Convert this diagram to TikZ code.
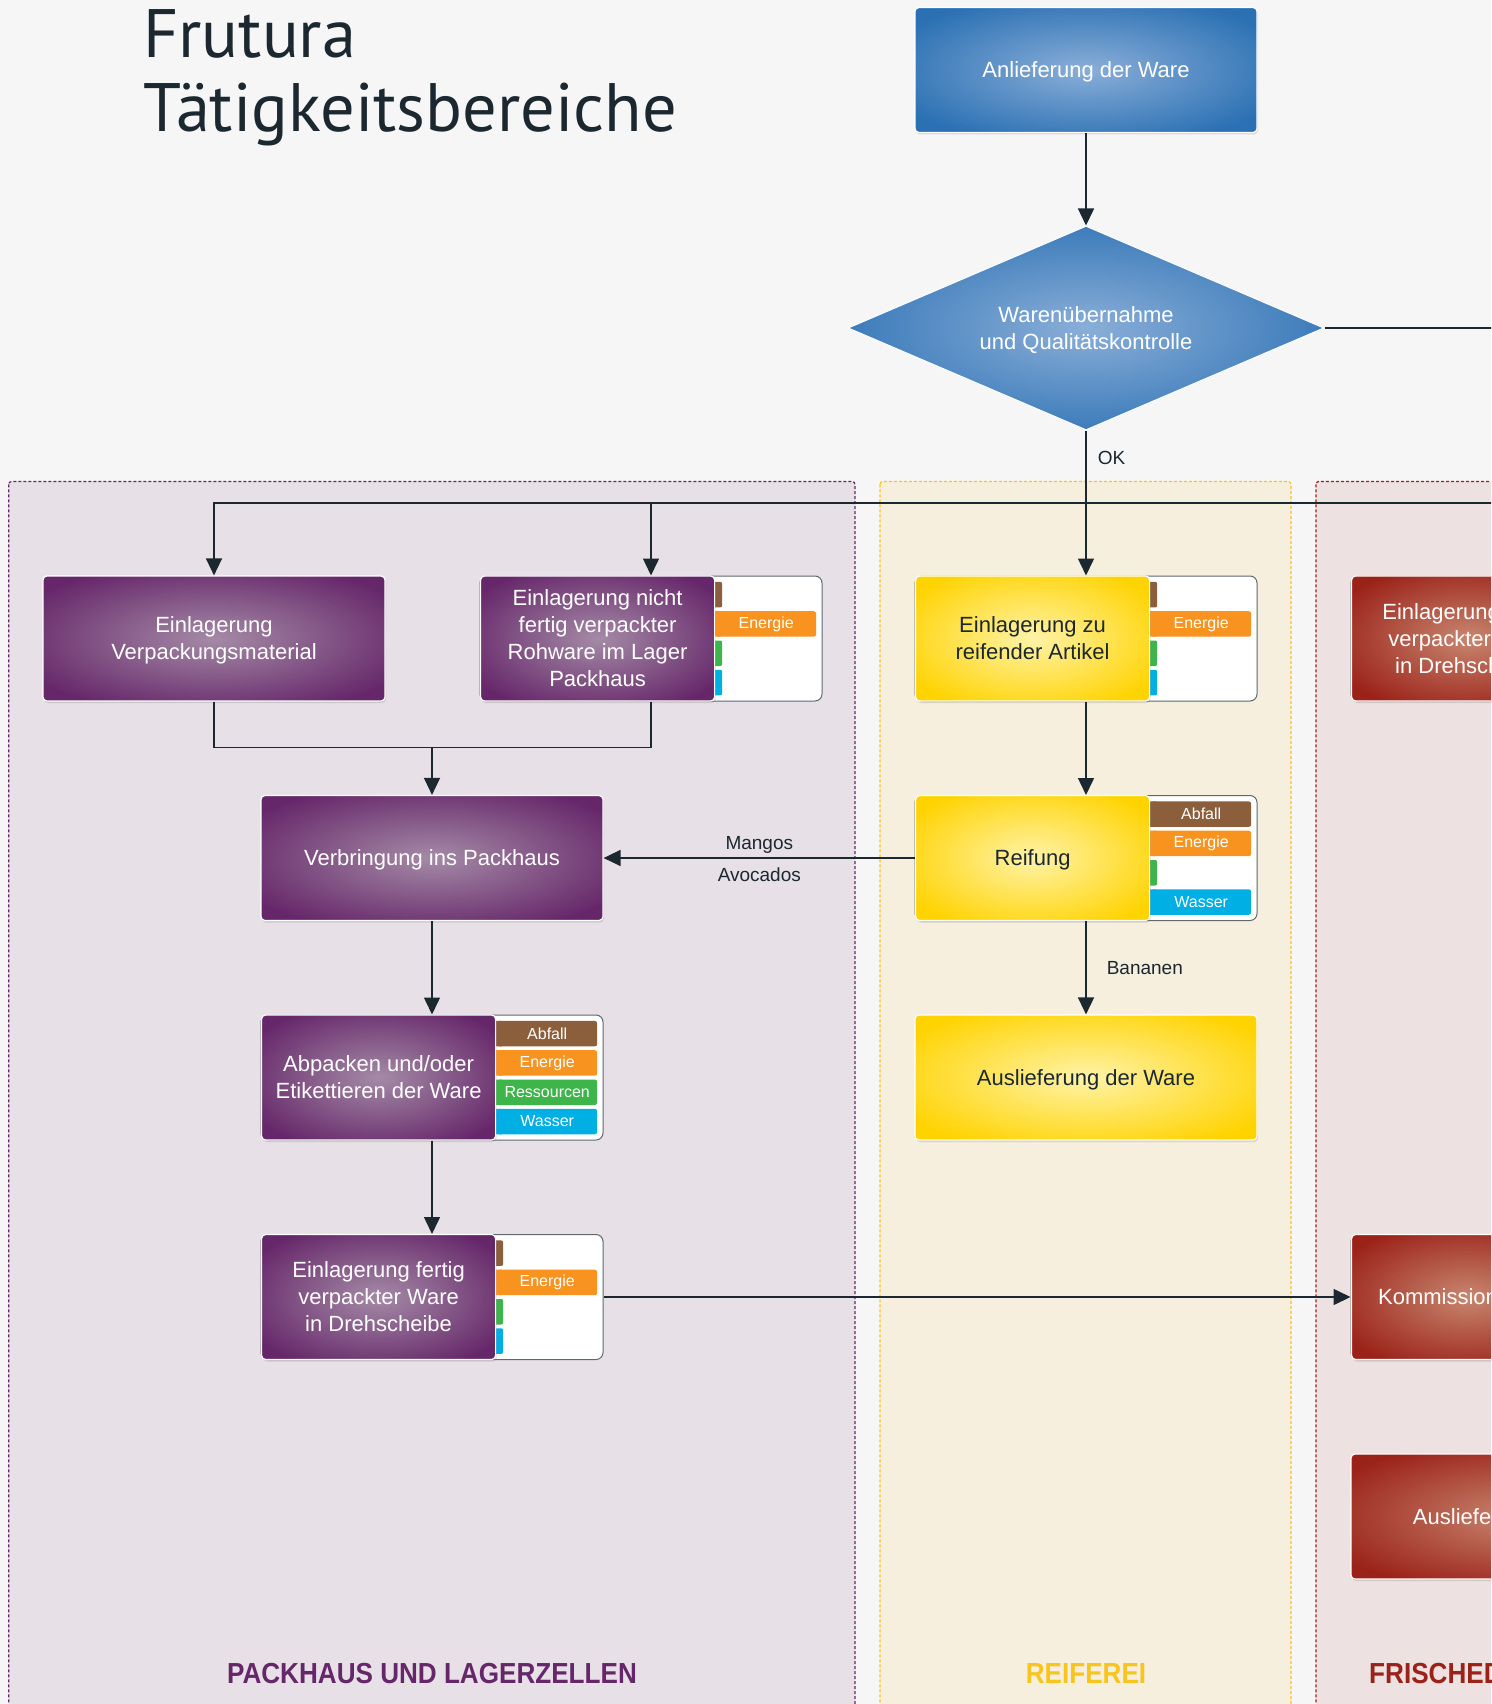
\documentclass[tikz,border=0pt]{standalone}
\usepackage{fontspec}
\setmainfont{Liberation Sans}
\newfontfamily\titelschrift{PT Sans}
\usepackage{graphicx}
\usetikzlibrary{shapes.geometric,arrows.meta,positioning,shadows}

\definecolor{hintergrund}{HTML}{F6F6F6}
\definecolor{linie}{HTML}{1C2830}
\definecolor{lila}{HTML}{66276A}
\definecolor{lilahell}{HTML}{A48AA6}
\definecolor{lilabahn}{HTML}{E8E0E7}
\definecolor{gelb}{HTML}{FFD300}
\definecolor{gelbhell}{HTML}{FFF3A8}
\definecolor{gelbbahn}{HTML}{F6EFDD}
\definecolor{gelbrand}{HTML}{F7C51E}
\definecolor{rot}{HTML}{9B2219}
\definecolor{rothell}{HTML}{C8866F}
\definecolor{rotbahn}{HTML}{EDE1E1}
\definecolor{blau}{HTML}{2A70B3}
\definecolor{blauhell}{HTML}{8AAED8}
\definecolor{abfall}{HTML}{8B5E3C}
\definecolor{energie}{HTML}{F7931E}
\definecolor{ressourcen}{HTML}{3DB54A}
\definecolor{wasser}{HTML}{00B0E5}

% weiche Verlaeufe von der Mitte zum Rand
\pgfdeclareradialshading{lilaverlauf}{\pgfpointorigin}{color(0bp)=(lilahell); color(31bp)=(lila); color(100bp)=(lila)}
\pgfdeclareradialshading{gelbverlauf}{\pgfpointorigin}{color(0bp)=(gelbhell); color(31bp)=(gelb); color(100bp)=(gelb)}
\pgfdeclareradialshading{rotverlauf}{\pgfpointorigin}{color(0bp)=(rothell); color(31bp)=(rot); color(100bp)=(rot)}
\pgfdeclareradialshading{blauverlauf}{\pgfpointorigin}{color(0bp)=(blauhell); color(31bp)=(blau); color(100bp)=(blau)}

\tikzset{
  kasten/.style={rectangle, rounded corners=4pt, draw=white, line width=1.2pt,
    minimum width=342pt, minimum height=125pt, inner sep=0pt, align=center,
    text depth=0pt, font=\fontsize{22}{27}\selectfont, text=white,
    drop shadow={opacity=0.25, shadow xshift=1pt, shadow yshift=-2pt}},
  lilakasten/.style={kasten, shading=lilaverlauf},
  gelbkasten/.style={kasten, shading=gelbverlauf, text=linie},
  rotkasten/.style={kasten, shading=rotverlauf},
  blaukasten/.style={kasten, shading=blauverlauf},
  raute/.style={diamond, aspect=2.33, minimum width=476pt, minimum height=204pt,
    inner sep=0pt, draw=white, line width=1pt, align=center, text=white,
    text depth=0pt, font=\fontsize{22}{27}\selectfont, shading=blauverlauf},
  rahmen/.style={rectangle, rounded corners=7pt, draw=linie!70, fill=white,
    line width=1pt, minimum width=342pt, minimum height=125pt, inner sep=0pt},
  stummel/.style={rectangle, rounded corners=2pt, minimum width=14pt,
    minimum height=25.5pt, inner sep=0pt},
  feld/.style={rectangle, rounded corners=2.5pt, minimum width=100pt,
    minimum height=25.5pt, inner sep=0pt, text=white,
    font=\fontsize{16}{18}\selectfont},
  bahn/.style={dashed, dash pattern=on 3pt off 2pt, line width=1.2pt, rounded corners=3pt},
  bahntitel/.style={inner sep=0pt, font=\bfseries\fontsize{29}{34}\selectfont},
  titel/.style={inner sep=0pt, text=linie, font=\titelschrift\fontsize{68.5}{77}\selectfont},
  linie/.style={draw=linie, line width=1.5pt},
  pfeil/.style={linie, -{Triangle[length=17pt, width=16pt]}},
  beschriftung/.style={inner sep=2pt, text=linie, font=\fontsize{19}{22}\selectfont}
}

% Taetigkeit mit Kennzeichnungsfeld: Name, x, y (Mitte), Stil, Text, aktive Felder
\newcommand{\taetigkeit}[6]{
  \node[rahmen] (#1) at (#2,#3) {};
  \foreach \i/\fb in {0/abfall,1/energie,2/ressourcen,3/wasser}
    \node[stummel, fill=\fb, anchor=north west] (#1-s\i) at ({#2+57},{#3-56.8+\i*29.3}) {};
  \node[#4, anchor=west, minimum width=234pt] (#1-f) at ({#2-171},#3) {#5};
  \foreach \i/\txt/\fb in {#6}
    \node[feld, fill=\fb, anchor=north west] (#1-t\i) at ({#2+65},{#3-56.8+\i*29.3}) {\txt};
}

\begin{document}
\begin{tikzpicture}[x=1pt, y=-1pt]
\useasboundingbox (0,0) rectangle (1491,1704);
\clip (0,0) rectangle (1491,1704);
\fill[hintergrund] (0,0) rectangle (1491,1704);

% Bahnen
\draw[bahn, fill=lilabahn, draw=lila] (8.7,481.4) rectangle (855,1740);
\draw[bahn, fill=gelbbahn, draw=gelbrand] (880,481.4) rectangle (1291,1740);
\draw[bahn, fill=rotbahn, draw=rot] (1316,481.4) rectangle (1800,1740);
\node[bahntitel, text=lila] (b-pack) at (432,1673.8) {\scalebox{0.9}[1]{PACKHAUS UND LAGERZELLEN}};
\node[bahntitel, text=gelbrand] (b-reif) at (1086,1673.8) {\scalebox{0.9}[1]{REIFEREI}};
\node[bahntitel, text=rot, anchor=west] (b-frisch) at (1369,1673.8) {\scalebox{0.9}[1]{FRISCHEDIENST}};

% Titel
\node[titel, anchor=base west] (titel1) at (143,58) {Frutura};
\node[titel, anchor=base west] (titel2) at (143,132) {Tätigkeitsbereiche};

% Wareneingang
\node[blaukasten] (anl) at (1086,70) {Anlieferung der Ware};
\node[raute] (dia) at (1086,328) {Warenübernahme\\und Qualitätskontrolle};

% Packhaus und Lagerzellen
\node[lilakasten] (ev) at (214,638.5) {Einlagerung\\Verpackungsmaterial};
\taetigkeit{en}{651}{638.5}{lilakasten}{Einlagerung nicht\\fertig verpackter\\Rohware im Lager\\Packhaus}{1/Energie/energie}
\node[lilakasten] (verb) at (432,858) {Verbringung ins Packhaus};
\taetigkeit{abp}{432}{1077.5}{lilakasten}{Abpacken und/oder\\Etikettieren der Ware}{0/Abfall/abfall,1/Energie/energie,2/Ressourcen/ressourcen,3/Wasser/wasser}
\taetigkeit{ef}{432}{1297}{lilakasten}{Einlagerung fertig\\verpackter Ware\\in Drehscheibe}{1/Energie/energie}

% Reiferei
\taetigkeit{ez}{1086}{638.5}{gelbkasten}{Einlagerung zu\\reifender Artikel}{1/Energie/energie}
\taetigkeit{reif}{1086}{858}{gelbkasten}{Reifung}{0/Abfall/abfall,1/Energie/energie,3/Wasser/wasser}
\node[gelbkasten] (ausl) at (1086,1077.5) {Auslieferung der Ware};

% Frischedienst
\taetigkeit{er}{1522}{638.5}{rotkasten}{Einlagerung fertig\\verpackter Ware\\in Drehscheibe}{1/Energie/energie}
\taetigkeit{komm}{1522}{1297}{rotkasten}{Kommissionierung}{1/Energie/energie}
\node[rotkasten] (auslr) at (1522,1516.5) {Auslieferung der Ware};

% Verbindungen
\coordinate (rechts1) at (1560,328);
\coordinate (rechts2) at (1560,503);
\coordinate (zus) at (432,747.7);
\draw[pfeil] (anl) -- (dia);
\draw[pfeil] (dia.south) -- node[beschriftung, pos=0.19, right=9pt] (ok) {OK} (ez.north);
\draw[pfeil] (dia.east) -- (rechts1) -- (rechts2) -| (ev.north);
\draw[pfeil] (en.north |- rechts2) -- (en.north);
\draw[linie] (ev.south) |- (zus);
\draw[linie] (en.south) |- (zus);
\draw[pfeil] (zus) -- (verb.north);
\draw[pfeil] (ez.south) -- (reif.north);
\draw[pfeil] (reif-f.west) -- node[beschriftung, midway, above=2pt] (mango) {Mangos}
  node[beschriftung, midway, below=7pt] (avo) {Avocados} (verb.east);
\draw[pfeil] (reif.south) -- node[beschriftung, midway, right=18pt] (banane) {Bananen} (ausl.north);
\draw[pfeil] (verb.south) -- (abp.north);
\draw[pfeil] (abp.south) -- (ef.north);
\draw[pfeil] (ef.east) -- (komm.west);
\end{tikzpicture}
\end{document}
